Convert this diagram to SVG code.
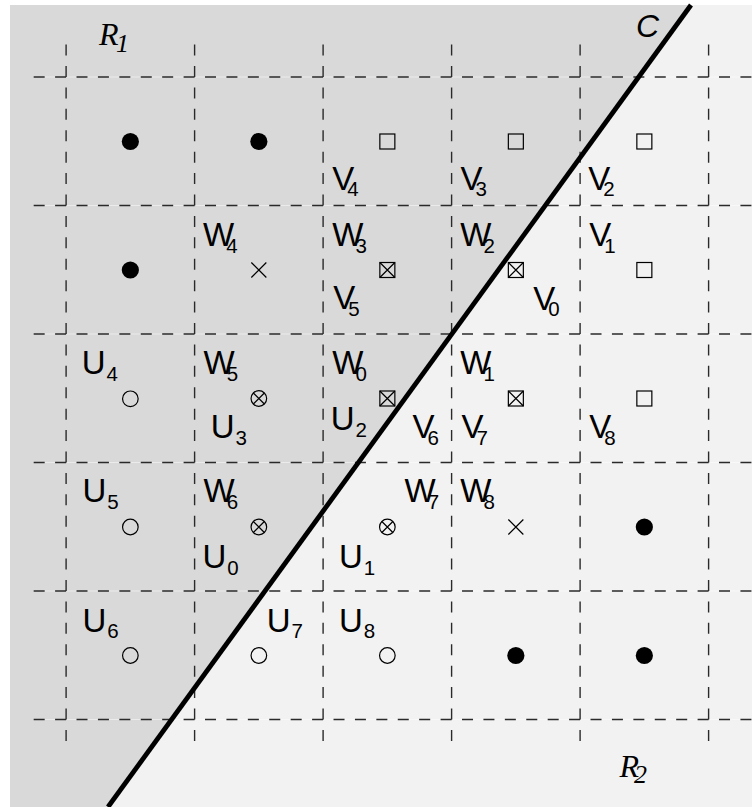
<svg xmlns="http://www.w3.org/2000/svg" xmlns:xlink="http://www.w3.org/1999/xlink" width="752" height="807" viewBox="0 0 752 807">
<style>
.lb{font-family:"Liberation Sans",Arial,Helvetica,sans-serif;font-size:33px;fill:#000}
.sb{font-size:20.5px}
.rl{font-family:"Liberation Serif","Times New Roman",serif;font-style:italic;font-size:32px;fill:#000}
.rs{font-size:26px}
.cl{font-family:"Liberation Sans",Arial,sans-serif;font-style:italic;font-size:32px;fill:#000}
.gh{stroke:#fff;stroke-width:0.8;opacity:0.6;fill:none}
.gd{stroke:#2a2a2a;stroke-width:1.4;fill:none;stroke-dasharray:11 10.417}
.mk{fill:none;stroke:#000;stroke-width:1.2}
</style>
<defs>
<circle id="dot" r="8.6" fill="#000"/>
<rect id="sq" x="-7.5" y="-7.5" width="15" height="15" class="mk"/>
<circle id="oc" r="7.8" class="mk"/>
<path id="cr" d="M-7.5,-7.5L7.5,7.5M7.5,-7.5L-7.5,7.5" class="mk"/>
<g id="cc"><circle r="7.8" class="mk"/><path d="M-5.5,-5.5L5.5,5.5M5.5,-5.5L-5.5,5.5" class="mk"/></g>
<g id="bx"><rect x="-7.5" y="-7.5" width="15" height="15" class="mk"/><path d="M-7.5,-7.5L7.5,7.5M7.5,-7.5L-7.5,7.5" class="mk"/></g>
</defs>
<g id="background">
<polygon points="10,5 691,5 108,807 10,807" fill="#d9d9d9"/>
<polygon points="691,5 752,5 752,807 108,807" fill="#f2f2f2"/>
</g>
<g id="grid">
<g class="gh">
<line x1="34" y1="77" x2="752" y2="77"/><line x1="34" y1="205.5" x2="752" y2="205.5"/><line x1="34" y1="334" x2="752" y2="334"/><line x1="34" y1="462.5" x2="752" y2="462.5"/><line x1="34" y1="591" x2="752" y2="591"/><line x1="34" y1="719.5" x2="752" y2="719.5"/>
</g>
<g class="gd">
<line x1="33.68" y1="77" x2="752" y2="77"/><line x1="33.68" y1="205.5" x2="752" y2="205.5"/><line x1="33.68" y1="334" x2="752" y2="334"/><line x1="33.68" y1="462.5" x2="752" y2="462.5"/><line x1="33.68" y1="591" x2="752" y2="591"/><line x1="33.68" y1="719.5" x2="752" y2="719.5"/>
<line x1="66.1" y1="44.58" x2="66.1" y2="741"/><line x1="194.6" y1="44.58" x2="194.6" y2="741"/><line x1="323.1" y1="44.58" x2="323.1" y2="741"/><line x1="451.6" y1="44.58" x2="451.6" y2="741"/><line x1="580.1" y1="44.58" x2="580.1" y2="741"/><line x1="708.6" y1="44.58" x2="708.6" y2="741"/>
</g>
</g>
<g id="connectors">
<line id="curveC" x1="691" y1="5" x2="108" y2="807" stroke="#000" stroke-width="4.8"/>
</g>
<g id="markers">
<g id="n00"><use href="#dot" x="130.35" y="141.5"/></g>
<g id="n10"><use href="#dot" x="258.85" y="141.5"/></g>
<g id="n20"><use href="#sq" x="387.35" y="141.5"/></g>
<g id="n30"><use href="#sq" x="515.85" y="141.5"/></g>
<g id="n40"><use href="#sq" x="644.35" y="141.5"/></g>
<g id="n01"><use href="#dot" x="130.35" y="270"/></g>
<g id="n11"><use href="#cr" x="258.85" y="270"/></g>
<g id="n21"><use href="#bx" x="387.35" y="270"/></g>
<g id="n31"><use href="#bx" x="515.85" y="270"/></g>
<g id="n41"><use href="#sq" x="644.35" y="270"/></g>
<g id="n02"><use href="#oc" x="130.35" y="398.8"/></g>
<g id="n12"><use href="#cc" x="258.85" y="398.5"/></g>
<g id="n22"><use href="#bx" x="387.35" y="398.5"/></g>
<g id="n32"><use href="#bx" x="515.85" y="398.5"/></g>
<g id="n42"><use href="#sq" x="644.35" y="398.5"/></g>
<g id="n03"><use href="#oc" x="130.35" y="527"/></g>
<g id="n13"><use href="#cc" x="258.85" y="527"/></g>
<g id="n23"><use href="#cc" x="387.35" y="527"/></g>
<g id="n33"><use href="#cr" x="515.85" y="527"/></g>
<g id="n43"><use href="#dot" x="644.35" y="527"/></g>
<g id="n04"><use href="#oc" x="130.35" y="655.5"/></g>
<g id="n14"><use href="#oc" x="258.85" y="655.5"/></g>
<g id="n24"><use href="#oc" x="387.35" y="655.5"/></g>
<g id="n34"><use href="#dot" x="515.85" y="655.5"/></g>
<g id="n44"><use href="#dot" x="644.35" y="655.5"/></g>
</g>
<g id="labels">
<text class="rl" x="99" y="45">R<tspan class="rs" dx="-2.5" dy="6.7">1</tspan></text>
<text class="rl" x="619.5" y="776.7">R<tspan class="rs" dx="-5" dy="6.6">2</tspan></text>
<text class="cl" x="636" y="36.7">C</text>
<text class="lb" x="332.2" y="189.5">V<tspan class="sb" dx="-7" dy="6.7">4</tspan></text>
<text class="lb" x="460.6" y="189.5">V<tspan class="sb" dx="-7" dy="6.7">3</tspan></text>
<text class="lb" x="588.2" y="189.5">V<tspan class="sb" dx="-7" dy="6.7">2</tspan></text>
<text class="lb" x="202.9" y="246">W<tspan class="sb" dx="-7.9" dy="6.7">4</tspan></text>
<text class="lb" x="332.3" y="246">W<tspan class="sb" dx="-7.9" dy="6.7">3</tspan></text>
<text class="lb" x="460.3" y="246">W<tspan class="sb" dx="-7.9" dy="6.7">2</tspan></text>
<text class="lb" x="589.2" y="246">V<tspan class="sb" dx="-7" dy="6.7">1</tspan></text>
<text class="lb" x="333.2" y="309">V<tspan class="sb" dx="-7" dy="6.7">5</tspan></text>
<text class="lb" x="533.2" y="309.5">V<tspan class="sb" dx="-7" dy="6.7">0</tspan></text>
<text class="lb" x="81.7" y="374">U<tspan class="sb" dx="0.9" dy="6.7">4</tspan></text>
<text class="lb" x="203.6" y="374">W<tspan class="sb" dx="-7.9" dy="6.7">5</tspan></text>
<text class="lb" x="332.3" y="374">W<tspan class="sb" dx="-7.9" dy="6.7">0</tspan></text>
<text class="lb" x="460.3" y="374">W<tspan class="sb" dx="-7.9" dy="6.7">1</tspan></text>
<text class="lb" x="210.7" y="438">U<tspan class="sb" dx="0.9" dy="6.7">3</tspan></text>
<text class="lb" x="330.7" y="430">U<tspan class="sb" dx="0.9" dy="6.7">2</tspan></text>
<text class="lb" x="412.6" y="438">V<tspan class="sb" dx="-7" dy="6.7">6</tspan></text>
<text class="lb" x="461.6" y="438">V<tspan class="sb" dx="-7" dy="6.7">7</tspan></text>
<text class="lb" x="589.2" y="438">V<tspan class="sb" dx="-7" dy="6.7">8</tspan></text>
<text class="lb" x="82.4" y="502.3">U<tspan class="sb" dx="0.9" dy="6.7">5</tspan></text>
<text class="lb" x="203.6" y="502.3">W<tspan class="sb" dx="-7.9" dy="6.7">6</tspan></text>
<text class="lb" x="404.6" y="502.3">W<tspan class="sb" dx="-7.9" dy="6.7">7</tspan></text>
<text class="lb" x="460.3" y="502.3">W<tspan class="sb" dx="-7.9" dy="6.7">8</tspan></text>
<text class="lb" x="202.4" y="568">U<tspan class="sb" dx="0.9" dy="6.7">0</tspan></text>
<text class="lb" x="339.1" y="568">U<tspan class="sb" dx="0.9" dy="6.7">1</tspan></text>
<text class="lb" x="82.4" y="631.7">U<tspan class="sb" dx="0.9" dy="6.7">6</tspan></text>
<text class="lb" x="266.7" y="631.7">U<tspan class="sb" dx="0.9" dy="6.7">7</tspan></text>
<text class="lb" x="339.1" y="631.7">U<tspan class="sb" dx="0.9" dy="6.7">8</tspan></text>
</g>
</svg>
